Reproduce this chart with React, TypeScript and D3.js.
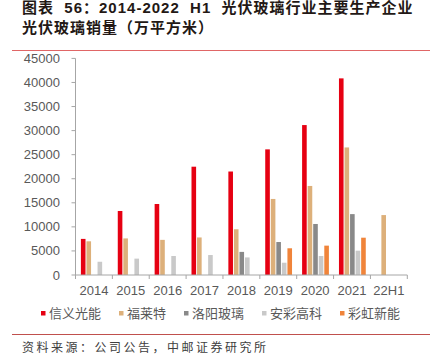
import React from "react";
import * as d3 from "d3";

const categories = ["2014", "2015", "2016", "2017", "2018", "2019", "2020", "2021", "22H1"];
const seriesNames = ["信义光能", "福莱特", "洛阳玻璃", "安彩高科", "彩虹新能"];
const xinyi = [7500, 13300, 14750, 22500, 21500, 26100, 31150, 40850, null];
const flat = [7000, 7600, 7300, 7800, 9500, 15800, 18500, 26500, 12450];
const luoyang = [null, null, null, null, 4800, 6850, 10600, 12650, null];
const ancai = [2750, 3400, 3950, 4150, 3650, 2550, 3950, 5050, null];
const caihong = [null, null, null, null, null, 5550, 6100, 7750, null];
const seriesValues = [xinyi, flat, luoyang, ancai, caihong];
const colors = ["#E60012", "#DDB07A", "#898989", "#C9C9C9", "#F0843A"];
const yTicks = [0, 5000, 10000, 15000, 20000, 25000, 30000, 35000, 40000, 45000];

const W = 431;
const H = 354;
const latin = "'Liberation Sans', Arial, 'Noto Sans CJK SC', sans-serif";
const cjk = "'Liberation Sans', 'Noto Sans CJK SC', sans-serif";

export default function App() {
  const x0 = d3.scaleBand<string>().domain(categories).range([75.5, 407.3]).paddingInner(0).paddingOuter(0);
  const bw = x0.bandwidth();
  const x1 = d3.scaleBand<string>().domain(seriesNames).range([5.4, 32.2]).paddingInner(0.17).paddingOuter(0);
  const y = d3.scaleLinear().domain([0, 45000]).range([275, 58.4]);

  const legendStarts: number[] = [];
  let lx = 41;
  seriesNames.forEach((n) => {
    legendStarts.push(lx);
    lx += 26 + 13 * n.length;
  });

  return (
    <svg width={W} height={H} style={{ position: "absolute", left: 0, top: 0, background: "#fff" }}>
      <text x={22} y={13} fontFamily={cjk} fontWeight="bold" fontSize={15} letterSpacing={1} fill="#231815" style={{ whiteSpace: "pre" }}>
        {"图表  56：2014-2022  H1  光伏玻璃行业主要生产企业"}
      </text>
      <text x={22} y={33} fontFamily={cjk} fontWeight="bold" fontSize={15} letterSpacing={1} fill="#231815">
        光伏玻璃销量（万平方米）
      </text>
      <line x1={12} x2={430} y1={50.5} y2={50.5} stroke="#E06666" strokeWidth={1} />

      {/* y axis */}
      <line x1={75.5} x2={75.5} y1={y(45000)} y2={275} stroke="#A6A6A6" strokeWidth={1} />
      {yTicks.map((t) => (
        <g key={t}>
          <line x1={71.5} x2={75.5} y1={y(t)} y2={y(t)} stroke="#A6A6A6" strokeWidth={1} />
          <text x={60} y={y(t)} dy="0.35em" textAnchor="end" fontFamily={latin} fontSize={13} fill="#595959">
            {t}
          </text>
        </g>
      ))}

      {/* bars */}
      {categories.map((c, i) => (
        <g key={c}>
          {seriesValues.map((vals, s) => {
            const v = vals[i];
            if (v == null) return null;
            return (
              <rect
                key={s}
                x={(x0(c) as number) + (x1(seriesNames[s]) as number)}
                y={y(v)}
                width={x1.bandwidth()}
                height={275 - y(v)}
                fill={colors[s]}
              />
            );
          })}
        </g>
      ))}

      {/* x axis */}
      <line x1={75.5} x2={407.3} y1={275} y2={275} stroke="#A6A6A6" strokeWidth={1} />
      {categories.map((c) => (
        <line key={"t" + c} x1={x0(c) as number} x2={x0(c) as number} y1={275} y2={279} stroke="#A6A6A6" />
      ))}
      <line x1={407.3} x2={407.3} y1={275} y2={279} stroke="#A6A6A6" />
      {categories.map((c) => (
        <text key={"l" + c} x={(x0(c) as number) + bw / 2} y={295} textAnchor="middle" fontFamily={latin} fontSize={13} fill="#595959">
          {c}
        </text>
      ))}

      {/* legend */}
      {seriesNames.map((n, s) => (
        <g key={n}>
          <rect x={legendStarts[s]} y={311} width={4.5} height={4.5} fill={colors[s]} />
          <text x={legendStarts[s] + 8} y={313.5} dy="0.35em" fontFamily={cjk} fontSize={13} fill="#595959">
            {n}
          </text>
        </g>
      ))}

      <line x1={12} x2={430} y1={334.5} y2={334.5} stroke="#C0504D" strokeWidth={1} />
      <text x={22} y={352} fontFamily={cjk} fontSize={12} letterSpacing={2.5} fill="#404040">
        资料来源：公司公告，中邮证券研究所
      </text>
    </svg>
  );
}
